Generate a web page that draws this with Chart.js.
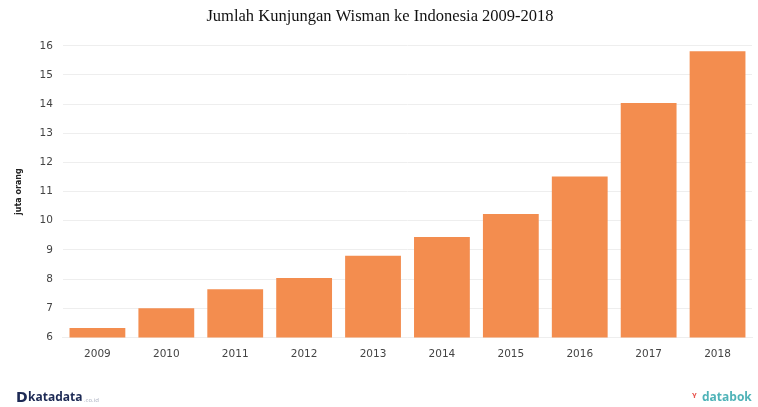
<!DOCTYPE html>
<html>
<head>
<meta charset="utf-8">
<script src="https://cdn.jsdelivr.net/npm/chart.js@4"></script>
<style>
  html, body { margin: 0; padding: 0; background: #fff; }
  #wrap { width: 758px; height: 407px; }
</style>
</head>
<body>
<div id="wrap"><canvas id="chart" width="758" height="407"></canvas></div>
<script>
// Jumlah kunjungan wisman (juta orang)
const years = ['2009', '2010', '2011', '2012', '2013', '2014', '2015', '2016', '2017', '2018'];
const visitors = [6.32, 7.0, 7.65, 8.04, 8.80, 9.44, 10.23, 11.52, 14.04, 15.81];
const yTicks = [6, 7, 8, 9, 10, 11, 12, 13, 14, 15, 16];

// footer logos, drawn as text
const logoPlugin = {
    id: 'logos',
    afterDraw(chart) {
        const ctx = chart.ctx;
        ctx.save();
        ctx.textBaseline = 'middle';
        // katadata
        ctx.fillStyle = '#1d2a55';
        ctx.font = 'bold 14px "DejaVu Sans"';
        ctx.fillText('D', 16, 398);
        ctx.font = 'bold 12px "Open Sans"';
        ctx.fillText('katadata', 28, 398);
        ctx.fillStyle = '#aab0c0';
        ctx.font = '6px "Open Sans"';
        ctx.fillText('.co.id', 84, 400);
        // databok
        ctx.fillStyle = '#e8554e';
        ctx.font = 'bold 11px "DejaVu Sans"';
        ctx.fillText('ᵞ', 692, 397);
        ctx.fillStyle = '#4fb3b8';
        ctx.font = 'bold 12px "Open Sans"';
        ctx.fillText('databok', 702, 398);
        ctx.restore();
    }
};

new Chart(document.getElementById('chart'), {
    type: 'bar',
    data: {
        labels: years,
        datasets: [{
            label: 'Wisman',
            data: visitors,
            backgroundColor: '#f38d4f',
            categoryPercentage: 0.81,
            barPercentage: 1.0
        }]
    },
    options: {
        responsive: false,
        animation: false,
        layout: { padding: { left: 8, right: 6, top: 0, bottom: 35 } },
        plugins: {
            legend: { display: false },
            tooltip: { enabled: false },
            title: {
                display: true,
                text: 'Jumlah Kunjungan Wisman ke Indonesia 2009-2018',
                color: '#111',
                font: { family: '"Liberation Serif"', size: 16.5, weight: 'normal' },
                padding: { top: 7, bottom: 19 }
            }
        },
        scales: {
            x: {
                grid: { display: false, drawTicks: false },
                border: { color: '#eeeeee' },
                ticks: { color: '#444', font: { family: '"DejaVu Sans"', size: 10.5 }, padding: 11 }
            },
            y: {
                min: 6,
                max: 16,
                afterBuildTicks(scale) { scale.ticks = yTicks.map(v => ({ value: v })); },
                grid: { color: '#eeeeee', drawTicks: false },
                border: { display: false },
                title: {
                    display: true,
                    text: 'juta orang',
                    color: '#222',
                    font: { family: '"DejaVu Sans"', size: 8, weight: 'bold' },
                    padding: 6
                },
                ticks: { color: '#444', font: { family: '"DejaVu Sans"', size: 10.5 }, padding: 10 }
            }
        }
    },
    plugins: [logoPlugin]
});
</script>
</body>
</html>
